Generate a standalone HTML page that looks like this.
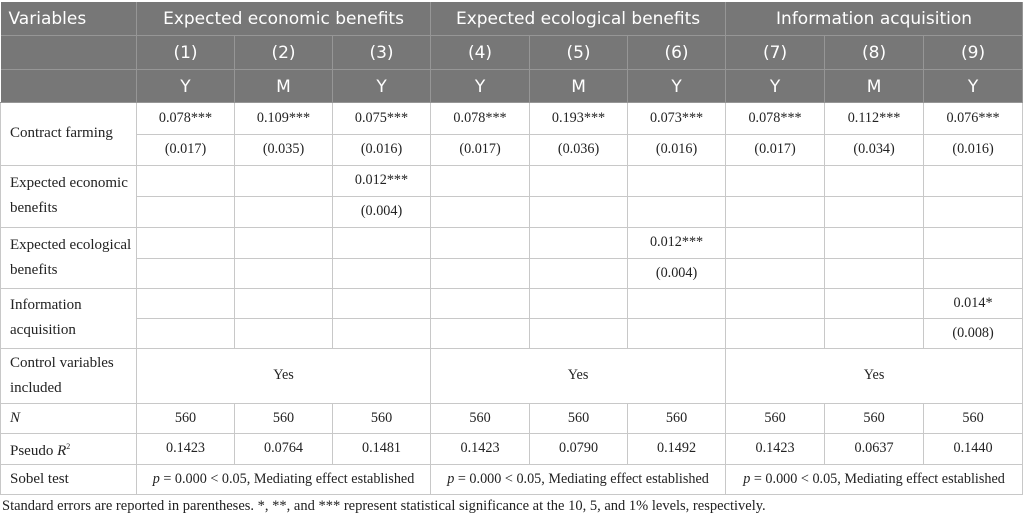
<!DOCTYPE html>
<html><head><meta charset="utf-8"><style>
body{margin:0;background:#fff;width:1024px;height:521px;overflow:hidden;}
table{position:absolute;left:0;top:2px;border-collapse:collapse;table-layout:fixed;width:1022px;}
td{padding:0;text-align:center;vertical-align:middle;white-space:nowrap;}
.h td{background:#777;color:#fff;font-family:"DejaVu Sans","Liberation Sans",sans-serif;font-size:17px;border:1px solid #969696;border-top:none;padding-top:2px;}
.h td:first-child{border-left:none;}
.b td{font-family:"Liberation Serif",serif;font-size:14.2px;color:#222;border:1px solid #c8c8c8;}
.b td.l{text-align:left;padding-left:9px;font-size:15px;line-height:25px;white-space:normal;}
.note{position:absolute;left:2px;top:498px;font-family:"Liberation Serif",serif;font-size:14.5px;color:#222;white-space:nowrap;}
</style></head><body>
<table>
<colgroup><col style="width:136px"><col style="width:98px"><col style="width:98px"><col style="width:98px"><col style="width:99px"><col style="width:98px"><col style="width:98px"><col style="width:99px"><col style="width:99px"><col style="width:99px"></colgroup>
<tr class="h" style="height:33px"><td style="text-align:left;padding-left:8px">Variables</td><td colspan="3">Expected economic benefits</td><td colspan="3">Expected ecological benefits</td><td colspan="3">Information acquisition</td></tr>
<tr class="h" style="height:34px"><td></td><td>(1)</td><td>(2)</td><td>(3)</td><td>(4)</td><td>(5)</td><td>(6)</td><td>(7)</td><td>(8)</td><td>(9)</td></tr>
<tr class="h" style="height:33px"><td></td><td>Y</td><td>M</td><td>Y</td><td>Y</td><td>M</td><td>Y</td><td>Y</td><td>M</td><td>Y</td></tr>
<tr class="b" style="height:32px"><td class="l" rowspan="2">Contract farming</td><td>0.078***</td><td>0.109***</td><td>0.075***</td><td>0.078***</td><td>0.193***</td><td>0.073***</td><td>0.078***</td><td>0.112***</td><td>0.076***</td></tr>
<tr class="b" style="height:31px"><td>(0.017)</td><td>(0.035)</td><td>(0.016)</td><td>(0.017)</td><td>(0.036)</td><td>(0.016)</td><td>(0.017)</td><td>(0.034)</td><td>(0.016)</td></tr>
<tr class="b" style="height:31px"><td class="l" rowspan="2">Expected economic benefits</td><td></td><td></td><td>0.012***</td><td></td><td></td><td></td><td></td><td></td><td></td></tr>
<tr class="b" style="height:31px"><td></td><td></td><td>(0.004)</td><td></td><td></td><td></td><td></td><td></td><td></td></tr>
<tr class="b" style="height:31px"><td class="l" rowspan="2">Expected ecological benefits</td><td></td><td></td><td></td><td></td><td></td><td>0.012***</td><td></td><td></td><td></td></tr>
<tr class="b" style="height:30px"><td></td><td></td><td></td><td></td><td></td><td>(0.004)</td><td></td><td></td><td></td></tr>
<tr class="b" style="height:30px"><td class="l" rowspan="2">Information acquisition</td><td></td><td></td><td></td><td></td><td></td><td></td><td></td><td></td><td>0.014*</td></tr>
<tr class="b" style="height:30px"><td></td><td></td><td></td><td></td><td></td><td></td><td></td><td></td><td>(0.008)</td></tr>
<tr class="b" style="height:55px"><td class="l">Control variables included</td><td colspan="3">Yes</td><td colspan="3">Yes</td><td colspan="3">Yes</td></tr>
<tr class="b" style="height:30px"><td class="l"><i>N</i></td><td>560</td><td>560</td><td>560</td><td>560</td><td>560</td><td>560</td><td>560</td><td>560</td><td>560</td></tr>
<tr class="b" style="height:31px"><td class="l">Pseudo <i>R</i><sup style="font-size:8px">2</sup></td><td>0.1423</td><td>0.0764</td><td>0.1481</td><td>0.1423</td><td>0.0790</td><td>0.1492</td><td>0.1423</td><td>0.0637</td><td>0.1440</td></tr>
<tr class="b" style="height:30px"><td class="l">Sobel test</td><td colspan="3"><i>p</i> = 0.000 &lt; 0.05, Mediating effect established</td><td colspan="3"><i>p</i> = 0.000 &lt; 0.05, Mediating effect established</td><td colspan="3"><i>p</i> = 0.000 &lt; 0.05, Mediating effect established</td></tr>
</table>
<div class="note">Standard errors are reported in parentheses. *, **, and *** represent statistical significance at the 10, 5, and 1% levels, respectively.</div>
</body></html>
